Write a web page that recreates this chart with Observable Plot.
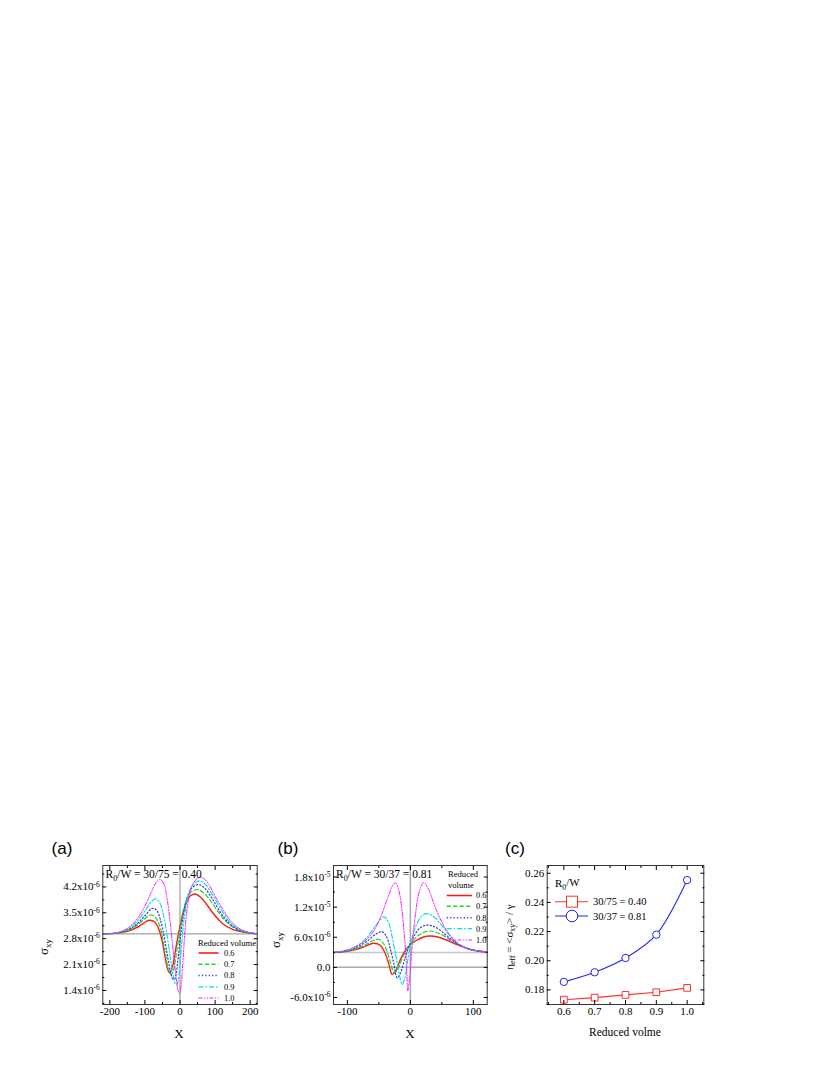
<!DOCTYPE html>
<html><head><meta charset="utf-8">
<script src="https://cdn.jsdelivr.net/npm/d3@7"></script>
<script src="https://cdn.jsdelivr.net/npm/@observablehq/plot@0.6"></script>
<style>
body{margin:0;background:#fff;}
#page{position:relative;width:830px;height:1075px;overflow:hidden;background:#fff;}
.t{position:absolute;white-space:nowrap;font-family:"Liberation Serif","Times New Roman",serif;color:#000;line-height:1;}
.t sub{font-size:0.7em;vertical-align:-0.3em;}
svg{overflow:visible;}
</style></head>
<body><div id="page"></div>
<script>
// ---------------- DATA ----------------
const volumes = ["0.6", "0.7", "0.8", "0.9", "1.0"];

// Panel (a): R0/W = 30/75 = 0.40, sigma_xy in units of 1e-6
const baselineA = 2.93;
const xA_06 = [-220,-180,-150,-125,-105,-88,-72,-60,-50,-42,-35,-29,-22,-14,-6,2,10,20,30,43,58,75,95,120,150,185,220];
const yA_06 = [2.93,2.95,3.00,3.09,3.21,3.30,3.25,3.05,2.70,2.28,1.97,1.88,2.02,2.42,2.85,3.22,3.55,3.82,3.96,4.01,3.93,3.74,3.48,3.22,3.05,2.97,2.93];
const xA_07 = [-220,-180,-150,-125,-105,-84,-70,-58,-48,-40,-32,-25,-19,-12,-4,4,12,22,34,50,66,85,105,130,160,190,220];
const yA_07 = [2.93,2.95,3.02,3.14,3.30,3.44,3.38,3.15,2.75,2.30,1.95,1.83,1.93,2.30,2.80,3.28,3.65,3.93,4.08,4.13,4.05,3.85,3.58,3.28,3.06,2.97,2.93];
const xA_08 = [-220,-180,-150,-125,-100,-79,-66,-55,-45,-36,-28,-21,-16,-11,-5,2,10,20,32,45,56,72,92,115,140,170,200,220];
const yA_08 = [2.93,2.96,3.04,3.18,3.42,3.62,3.56,3.28,2.85,2.35,1.95,1.72,1.70,1.85,2.30,2.90,3.45,3.90,4.15,4.25,4.26,4.15,3.88,3.52,3.22,3.03,2.96,2.93];
const xA_09 = [-220,-180,-150,-125,-100,-82,-69,-57,-46,-36,-27,-19,-13,-9,-5,0,6,14,24,36,48,58,75,95,120,145,175,220];
const yA_09 = [2.93,2.96,3.06,3.24,3.55,3.80,3.88,3.76,3.40,2.85,2.25,1.78,1.57,1.55,1.68,2.10,2.80,3.50,4.00,4.25,4.35,4.36,4.24,3.95,3.55,3.22,3.03,2.93];
const xA_10 = [-220,-180,-150,-125,-100,-82,-68,-56,-46,-37,-28,-19,-11,-5,-1,3,8,15,24,35,48,62,80,100,125,150,180,220];
const yA_10 = [2.93,2.96,3.08,3.30,3.68,4.05,4.32,4.40,4.28,3.90,3.25,2.45,1.75,1.38,1.31,1.50,2.15,3.10,3.85,4.25,4.42,4.46,4.30,3.95,3.55,3.22,3.02,2.93];

// Panel (b): R0/W = 30/37 = 0.81, sigma_xy in units of 1e-6
const baselineB = 2.95;
const xB_06 = [-122,-100,-85,-72,-58,-48,-40,-34,-29,-24,-16,-8,0,10,20,31,45,60,75,90,105,122];
const yB_06 = [2.95,3.2,3.6,4.2,4.8,4.4,2.8,0.6,-1.4,-0.9,1.5,3.4,4.5,5.4,6.0,6.26,6.0,5.3,4.5,3.8,3.3,3.05];
const xB_07 = [-122,-100,-85,-70,-58,-50,-42,-35,-30,-26,-21,-13,-5,2,12,22,31,45,60,75,90,105,122];
const yB_07 = [2.95,3.25,3.8,4.6,5.4,5.6,4.6,2.4,0.3,-1.1,-0.6,1.8,3.7,4.9,6.3,7.0,7.25,6.8,5.8,4.7,3.8,3.3,3.05];
const xB_08 = [-122,-100,-85,-70,-55,-45,-38,-32,-26,-21,-16,-9,-2,6,15,26,40,55,70,85,100,122];
const yB_08 = [2.95,3.3,4.0,5.1,6.6,7.1,6.2,3.8,0.6,-2.1,-1.2,1.6,4.2,6.3,7.8,8.43,8.0,6.6,5.1,4.0,3.4,3.05];
const xB_09 = [-122,-100,-85,-70,-55,-42,-35,-28,-22,-17,-13,-9,-4,2,10,18,26,38,52,66,80,95,122];
const yB_09 = [2.95,3.4,4.2,5.8,8.3,10.1,9.0,5.5,1.5,-1.8,-3.4,-2.2,1.5,5.5,8.6,10.2,10.7,10.0,8.0,5.9,4.4,3.6,3.05];
const xB_10 = [-122,-100,-85,-70,-58,-45,-35,-27,-23,-18,-13,-9,-6,-4,-1,3,8,14,21,28,38,50,63,76,90,105,122];
const yB_10 = [2.95,3.5,4.3,5.5,7.3,10.7,14.2,16.5,16.8,15.2,11.0,5.5,0.0,-4.7,-2.0,4.5,10.5,15.0,16.9,15.8,12.5,9.0,6.4,4.7,3.8,3.3,3.05];

// Panel (c): effective viscosity vs reduced volume
const reducedVolume = [0.6, 0.7, 0.8, 0.9, 1.0];
const eta040 = [0.1733, 0.1747, 0.1766, 0.1784, 0.1814];
const eta081 = [0.1855, 0.1921, 0.2019, 0.2179, 0.2553];
const seriesC = ["30/75 = 0.40", "30/37 = 0.81"];

// tick values
const xTicksA = [-200, -100, 0, 100, 200], xMinorA = [-150, -50, 50, 150];
const yTicksA = [1.4, 2.1, 2.8, 3.5, 4.2], yMinorA = [1.05, 1.75, 2.45, 3.15, 3.85, 4.55];
const xTicksB = [-100, 0, 100], xMinorB = [-50, 50];
const yTicksB = [-6, 0, 6, 12, 18], yMinorB = [-3, 3, 9, 15];
const xTicksC = [0.6, 0.7, 0.8, 0.9, 1.0], xMinorC = [0.55, 0.65, 0.75, 0.85, 0.95, 1.05];
const yTicksC = [0.18, 0.20, 0.22, 0.24, 0.26], yMinorC = [0.17, 0.19, 0.21, 0.23, 0.25];

// ---------------- STYLES ----------------
const lineColors = ["#ff1a1a", "#19d819", "#3333ee", "#00dbe8", "#ff19ff"];
const lineWidths = [1.4, 1.2, 1.2, 1.1, 1.0];
const lineDashes = [null, "4,2.5", "1.2,2.2", "5,2,1.5,2", "4,1.5,1.2,1.5,1.2,1.5"];
const serif = '"Liberation Serif","Times New Roman",serif';

const page = document.getElementById("page");

function toRows(xs, ys) { return xs.map((x, i) => ({x, y: ys[i]})); }

function frameAxes(xT, xM, yT, yM, xFmt, yFmt) {
  const none = () => "";
  return [
    Plot.frame({stroke: "#333", strokeWidth: 1}),
    Plot.axisX({ticks: xT, tickSize: -4, tickPadding: 7, tickFormat: xFmt, label: null, fontSize: 11}),
    Plot.axisX({ticks: xM, tickSize: -2, tickFormat: none, label: null}),
    Plot.axisX({anchor: "top", ticks: xT, tickSize: -4, tickFormat: none, label: null}),
    Plot.axisX({anchor: "top", ticks: xM, tickSize: -2, tickFormat: none, label: null}),
    Plot.axisY({ticks: yT, tickSize: -4, tickPadding: 7, tickFormat: yFmt, label: null, fontSize: 11}),
    Plot.axisY({ticks: yM, tickSize: -2, tickFormat: none, label: null}),
    Plot.axisY({anchor: "right", ticks: yT, tickSize: -4, tickFormat: none, label: null}),
    Plot.axisY({anchor: "right", ticks: yM, tickSize: -2, tickFormat: none, label: null})
  ];
}

function superscriptTicks(svg) {
  d3.select(svg).selectAll("text").each(function() {
    const t = this.textContent;
    if (t.includes("^")) {
      const [a, b] = t.split("^");
      const sel = d3.select(this);
      sel.text(null);
      sel.append("tspan").text(a);
      sel.append("tspan").attr("dy", "-0.5em").attr("font-size", "0.68em").text(b);
    }
  });
}

function put(svg, left, top) {
  svg.style.position = "absolute";
  svg.style.left = left + "px";
  svg.style.top = top + "px";
  page.appendChild(svg);
}

function label(html, x, y, size, opts = {}) {
  const d = document.createElement("div");
  d.className = "t";
  d.innerHTML = html;
  d.style.fontSize = size + "px";
  d.style.left = x + "px";
  d.style.top = y + "px";
  const tx = opts.left ? "0" : "-50%";
  d.style.transform = `translate(${tx},-50%)` + (opts.rotate ? " rotate(-90deg)" : "");
  if (opts.sans) d.style.fontFamily = '"Liberation Sans", Arial, sans-serif';
  page.appendChild(d);
}

function svgText(g, x, y, size, str) {
  return g.append("text").attr("x", x).attr("y", y).attr("dy", "0.35em")
    .attr("text-anchor", "start").attr("font-family", serif).attr("font-size", size)
    .attr("fill", "#000").text(str);
}

function lineLegend(svg, x0, x1, xt, ys, size) {
  const g = d3.select(svg).append("g");
  volumes.forEach((v, i) => {
    g.append("line").attr("x1", x0).attr("x2", x1).attr("y1", ys[i]).attr("y2", ys[i])
      .attr("stroke", lineColors[i]).attr("stroke-width", lineWidths[i] + 0.2)
      .attr("stroke-dasharray", lineDashes[i]);
    svgText(g, xt, ys[i], size, v);
  });
}

const fmtInt = d => String(d);

// ---------------- PANEL (a) ----------------
const seriesA = [[xA_06, yA_06], [xA_07, yA_07], [xA_08, yA_08], [xA_09, yA_09], [xA_10, yA_10]];
const plotA = Plot.plot({
  width: 240, height: 215, marginLeft: 72.3, marginRight: 13.3, marginTop: 30, marginBottom: 46,
  style: {fontFamily: serif, fontSize: "11px", color: "#000", background: "transparent", overflow: "visible"},
  x: {domain: [-220, 220], label: null},
  y: {domain: [1.02, 4.78], label: null},
  marks: [
    Plot.ruleY([baselineA], {stroke: "#8a8a8a", strokeWidth: 1}),
    Plot.ruleX([0], {stroke: "#8a8a8a", strokeWidth: 1}),
    ...seriesA.map(([xs, ys], i) => Plot.line(toRows(xs, ys), {
      x: "x", y: "y", stroke: lineColors[i], strokeWidth: lineWidths[i],
      strokeDasharray: lineDashes[i], curve: "catmull-rom", clip: true})),
    ...frameAxes(xTicksA, xMinorA, yTicksA, yMinorA, fmtInt, d => d.toFixed(1) + "x10^-6")
  ]
});
superscriptTicks(plotA);
svgText(d3.select(plotA), 168, 108, 8.6, "Reduced volume");
lineLegend(plotA, 168.5, 188.5, 194, [118, 129.2, 140.5, 151.8, 163], 8.4);
put(plotA, 30, 835);

// ---------------- PANEL (b) ----------------
const seriesB = [[xB_06, yB_06], [xB_07, yB_07], [xB_08, yB_08], [xB_09, yB_09], [xB_10, yB_10]];
const fmtB = d => d === 0 ? "0.0" : (Math.abs(d) < 10 ? d.toFixed(1) + "x10^-6" : (d / 10).toFixed(1) + "x10^-5");
const plotB = Plot.plot({
  width: 240, height: 215, marginLeft: 63, marginRight: 23.3, marginTop: 30, marginBottom: 46,
  style: {fontFamily: serif, fontSize: "11px", color: "#000", background: "transparent", overflow: "visible"},
  x: {domain: [-122, 122], label: null},
  y: {domain: [-7.4, 20.3], label: null},
  marks: [
    Plot.ruleY([0], {stroke: "#aaaaaa", strokeWidth: 1.5}),
    Plot.ruleY([baselineB], {stroke: "#c8c8c8", strokeWidth: 1.5}),
    Plot.ruleX([0], {stroke: "#aaaaaa", strokeWidth: 1.5}),
    ...seriesB.map(([xs, ys], i) => Plot.line(toRows(xs, ys), {
      x: "x", y: "y", stroke: lineColors[i], strokeWidth: lineWidths[i],
      strokeDasharray: lineDashes[i], curve: "catmull-rom", clip: true})),
    ...frameAxes(xTicksB, xMinorB, yTicksB, yMinorB, fmtInt, fmtB)
  ]
});
superscriptTicks(plotB);
svgText(d3.select(plotB), 178, 38.5, 8.6, "Reduced");
svgText(d3.select(plotB), 178, 49.5, 8.6, "volume");
lineLegend(plotB, 176.7, 202, 206, [60.5, 71.3, 82.7, 93.7, 105], 8.4);
put(plotB, 270, 835);

// ---------------- PANEL (c) ----------------
const rowsC = [
  ...reducedVolume.map((v, i) => ({v, eta: eta040[i], s: seriesC[0]})),
  ...reducedVolume.map((v, i) => ({v, eta: eta081[i], s: seriesC[1]}))
];
const colorC = ["#ff3030", "#2424ee"];
const plotC = Plot.plot({
  width: 230, height: 215, marginLeft: 46.7, marginRight: 26.7, marginTop: 30, marginBottom: 46,
  style: {fontFamily: serif, fontSize: "11px", color: "#000", background: "transparent", overflow: "visible"},
  x: {domain: [0.546, 1.054], label: null},
  y: {domain: [0.170, 0.2653], label: null},
  marks: [
    Plot.line(rowsC.filter(d => d.s === seriesC[0]), {x: "v", y: "eta", stroke: colorC[0], strokeWidth: 1.1}),
    Plot.line(rowsC.filter(d => d.s === seriesC[1]), {x: "v", y: "eta", stroke: colorC[1], strokeWidth: 1.1, curve: "catmull-rom"}),
    Plot.dot(rowsC.filter(d => d.s === seriesC[0]), {x: "v", y: "eta", symbol: "square", r: 3.8, stroke: colorC[0], fill: "white", strokeWidth: 1}),
    Plot.dot(rowsC.filter(d => d.s === seriesC[1]), {x: "v", y: "eta", symbol: "circle", r: 3.7, stroke: colorC[1], fill: "white", strokeWidth: 1}),
    ...frameAxes(xTicksC, xMinorC, yTicksC, yMinorC, d => d.toFixed(1), d => d.toFixed(2))
  ]
});
{
  const g = d3.select(plotC).append("g");
  const t = svgText(g, 55, 48, 11, null);
  t.append("tspan").text("R");
  t.append("tspan").attr("dy", "0.35em").attr("font-size", "0.7em").text("0");
  t.append("tspan").attr("dy", "-0.35em").text("/W");
  const ys = [66.7, 81];
  seriesC.forEach((s, i) => {
    g.append("line").attr("x1", 55).attr("x2", 88).attr("y1", ys[i]).attr("y2", ys[i])
      .attr("stroke", colorC[i]).attr("stroke-width", 1.1);
    if (i === 0) g.append("rect").attr("x", 72 - 5.5).attr("y", ys[i] - 5.5).attr("width", 11).attr("height", 11)
      .attr("fill", "white").attr("stroke", colorC[i]).attr("stroke-width", 1);
    else g.append("circle").attr("cx", 72).attr("cy", ys[i]).attr("r", 5.8)
      .attr("fill", "white").attr("stroke", colorC[i]).attr("stroke-width", 1);
    svgText(g, 93, ys[i], 10.5, s);
  });
}
put(plotC, 500, 835);

// ---------------- TEXT LABELS ----------------
label("(a)", 62, 848, 17, {sans: true});
label("(b)", 288, 848, 17, {sans: true});
label("(c)", 515, 848, 17, {sans: true});
label("R<sub>0</sub>/W = 30/75 = 0.40", 105.5, 875.5, 11.5, {left: true});
label("R<sub>0</sub>/W = 30/37 = 0.81", 336, 875.5, 11.5, {left: true});
label("X", 179, 1033, 13);
label("X", 410, 1033, 13);
label("Reduced volme", 625, 1033, 11.5);
label("σ<sub>xy</sub>", 45, 947, 13, {rotate: true});
label("σ<sub>xy</sub>", 277, 940, 13, {rotate: true});
label("η<sub>eff</sub> = &lt;σ<sub>xy</sub>&gt; / γ", 510, 937, 11, {rotate: true});
</script>
</body></html>
